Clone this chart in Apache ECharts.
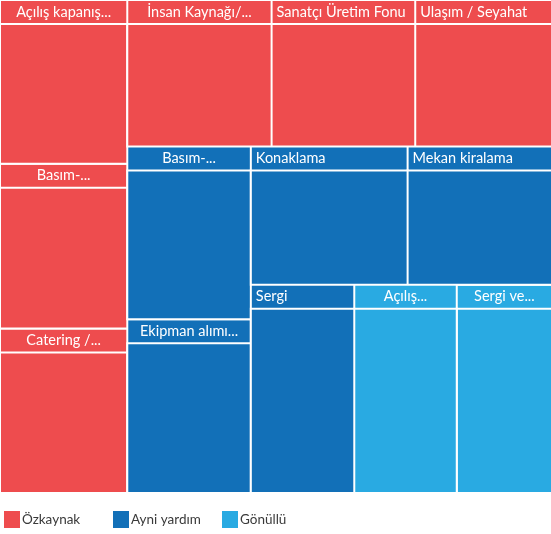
<!DOCTYPE html>
<html>
<head>
<meta charset="utf-8">
<script src="https://cdn.jsdelivr.net/npm/echarts@6/dist/echarts.min.js"></script>
<style>
html,body{margin:0;padding:0;background:#ffffff;}
#chart{width:551px;height:534px;}
</style>
</head>
<body>
<div id="chart"></div>
<script>
// ---- data ----
const groupNames = ['Özkaynak', 'Ayni yardım', 'Gönüllü'];
const categories = [
  'Açılış kapanış...', 'Basım-...', 'Catering /...',
  'İnsan Kaynağı/...', 'Sanatçı Üretim Fonu', 'Ulaşım / Seyahat',
  'Basım-...', 'Ekipman alımı...', 'Konaklama', 'Mekan kiralama', 'Sergi',
  'Açılış...', 'Sergi ve...'
];
const categoryGroup = [0, 0, 0, 0, 0, 0, 1, 1, 1, 1, 1, 2, 2];
const values = [20.7, 20.8, 20.8, 21.0, 20.9, 19.9, 21.2, 21.3, 21.5, 19.8, 21.4, 21.2, 19.7];
// nesting of the tiles (indices into categories)
const tileNesting = [[0, 1, 2], [[3, 4, 5], [[6, 7], [[8, 9], [[10, 11], 12]]]]];

// ---- style ----
const groupColors = ['#EE4C4E', '#1270B8', '#29AAE2'];
const labelCentered = [true, true, true, true, false, false, true, true, false, false, false, true, true];
const FONT = 'Lato';

function buildNode(node) {
  if (typeof node === 'number') {
    const c = groupColors[categoryGroup[node]];
    return {
      name: categories[node],
      itemStyle: { color: c, borderColor: c, borderWidth: -2, gapWidth: 0 },
      upperLabel: {
        show: true,
        height: 22,
        position: labelCentered[node] ? 'inside' : 'insideLeft',
        distance: 6,
        color: '#ffffff',
        fontFamily: FONT,
        fontSize: 14.5,
        overflow: 'none'
      },
      children: [{
        name: categories[node],
        value: values[node],
        itemStyle: { color: c, borderColor: '#ffffff', borderWidth: 2, gapWidth: 0 },
        label: { show: false }
      }]
    };
  }
  return {
    name: '',
    itemStyle: { borderColor: '#ffffff', borderWidth: 0, gapWidth: 2 },
    upperLabel: { show: false },
    label: { show: false },
    children: node.map(buildNode)
  };
}

const chart = echarts.init(document.getElementById('chart'), null, { renderer: 'canvas' });
const legendLeft = [4, 113, 222];
chart.setOption({
  animation: false,
  backgroundColor: '#ffffff',
  grid: { left: 0, top: 0, width: 1, height: 1, show: false },
  xAxis: { type: 'value', show: false },
  yAxis: { type: 'value', show: false },
  legend: groupNames.map((n, i) => ({
    data: [n],
    left: legendLeft[i],
    top: 511,
    padding: 0,
    icon: 'rect',
    itemWidth: 16,
    itemHeight: 17,
    selectedMode: false,
    itemStyle: { opacity: 1 },
    textStyle: { color: '#3a3a3a', fontFamily: FONT, fontSize: 13.5, padding: [0, 0, 0, -3] }
  })),
  series: [
    {
      type: 'treemap',
      left: 1,
      top: 1,
      width: 550,
      height: 491,
      squareRatio: 1.07,
      sort: false,
      roam: false,
      nodeClick: false,
      breadcrumb: { show: false },
      itemStyle: { borderColor: '#ffffff', borderWidth: 0, gapWidth: 2 },
      label: { show: false },
      upperLabel: { show: false },
      emphasis: { disabled: true },
      data: tileNesting.map(buildNode)
    }
  ].concat(groupNames.map((n, i) => ({
    type: 'scatter',
    name: n,
    data: [],
    itemStyle: { color: groupColors[i], opacity: 1 }
  })))
});
</script>
</body>
</html>
